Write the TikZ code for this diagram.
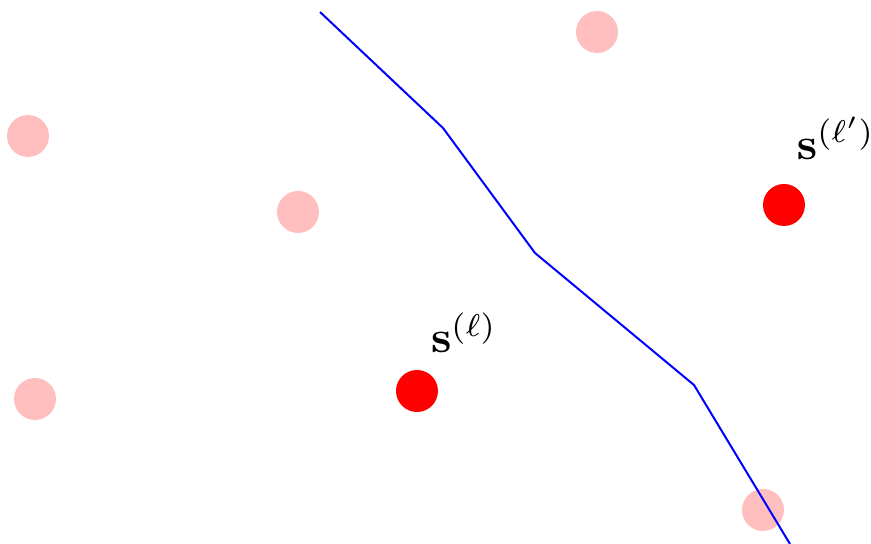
\documentclass[tikz,border=0pt]{standalone}
\usepackage{amsmath}
\begin{document}
\begin{tikzpicture}[x=0.2pt,y=-0.2pt,
  faint/.style={circle,fill=red!25,draw=none,minimum size=8.4pt,inner sep=0pt},
  strong/.style={circle,fill=red,draw=none,minimum size=8.4pt,inner sep=0pt},
  lbl/.style={inner sep=0pt,scale=0.9}]
\useasboundingbox (0,0) rectangle (871,544);
\node[faint] (p1) at (28,136) {};
\node[faint] (p2) at (298,212) {};
\node[faint] (p3) at (35,399) {};
\node[faint] (p4) at (597,32) {};
\node[faint] (p5) at (763,510) {};
\node[strong] (r1) at (417,391) {};
\node[strong] (r2) at (784,205) {};
\node[lbl] (l1) at (464,333) {$\mathbf{s}^{(\ell)}$};
\node[lbl] (l2) at (836,138) {$\mathbf{s}^{(\ell')}$};
\draw[blue,line width=0.4pt] (320,12) -- (443,128) -- (535,253) -- (694,385) -- (790,544);
\end{tikzpicture}
\end{document}
